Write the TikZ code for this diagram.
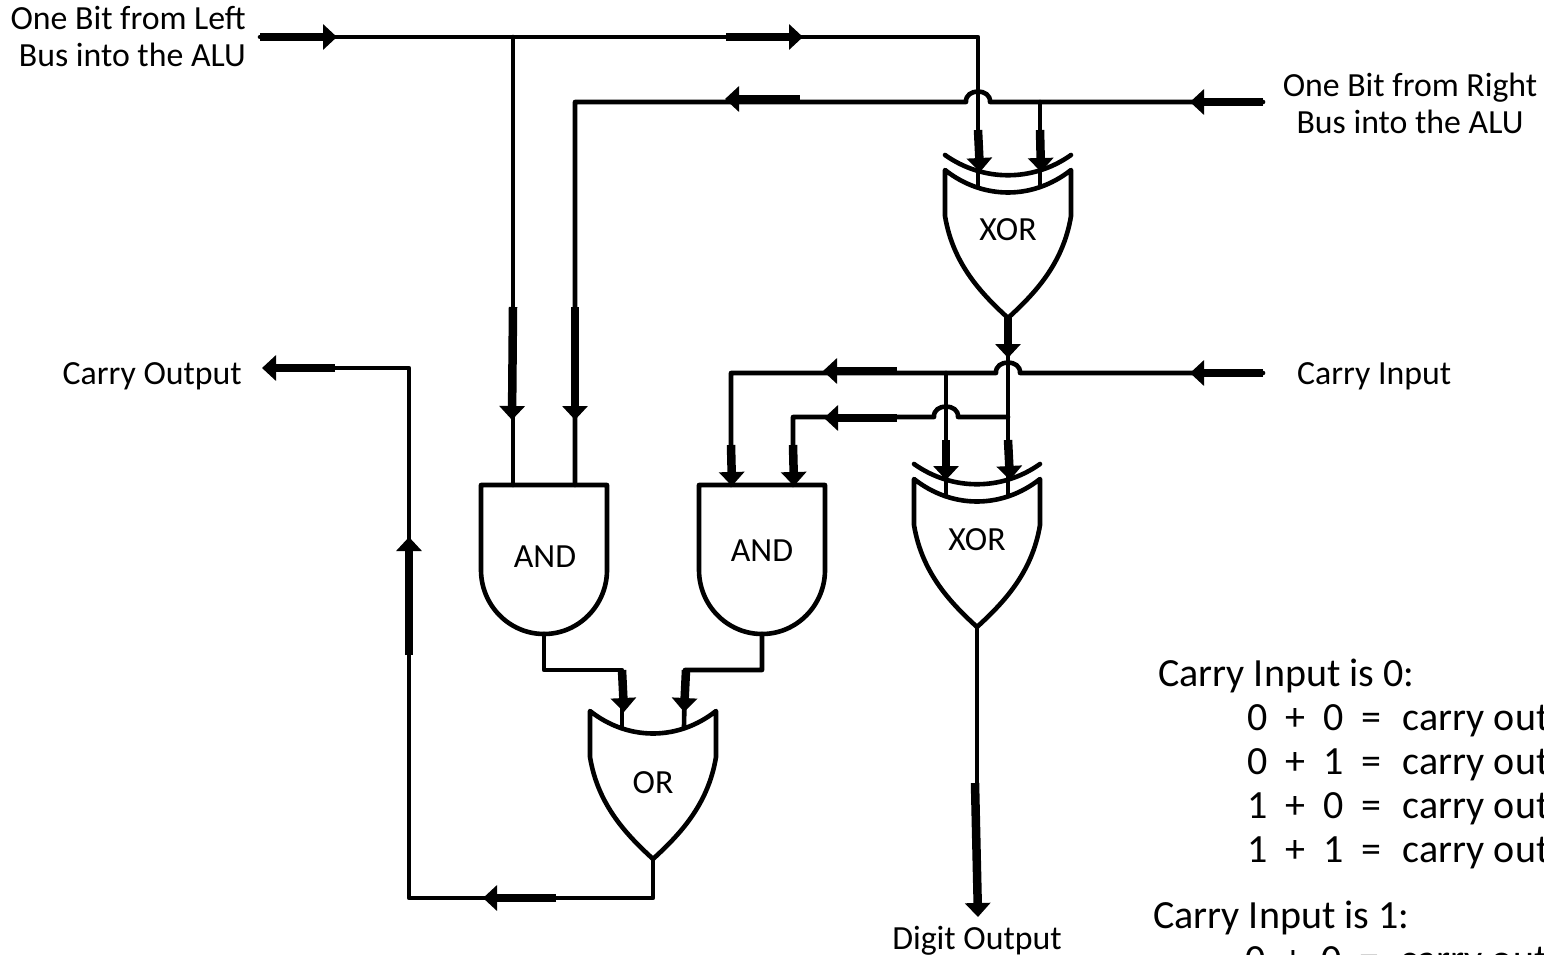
\documentclass[tikz,border=0pt]{standalone}
\usepackage{fontspec}
\setmainfont{Carlito}
\usetikzlibrary{arrows.meta}
\tikzset{
  wire/.style={line width=4.6pt,line join=round,line cap=round},
  gateline/.style={line width=4.6pt,line join=round,line cap=round,fill=white},
  thickarrow/.style={line width=8.5pt,-{Triangle[width=25pt,length=14pt]}},
  lab/.style={font=\fontsize{33.8}{38}\selectfont,inner sep=0pt},
  note/.style={font=\fontsize{40}{44}\selectfont,inner sep=0pt,anchor=base west},
  orbody/.pic={
    \draw[gateline] (-63,0) -- (-63,46) .. controls (-55,95) and (-25,125) .. (0,148)
      .. controls (25,125) and (55,95) .. (63,46) -- (63,0)
      .. controls (25,30) and (-25,30) .. (-63,0) -- cycle;
    \coordinate (out) at (0,148);
    \coordinate (a) at (-31,16);
    \coordinate (b) at (31,16);
  },
  xorbody/.pic={
    \draw[gateline] (-63,0) -- (-63,46) .. controls (-55,95) and (-25,125) .. (0,148)
      .. controls (25,125) and (55,95) .. (63,46) -- (63,0)
      .. controls (25,30) and (-25,30) .. (-63,0) -- cycle;
    \draw[wire] (-63,-15) .. controls (-25,12) and (25,12) .. (63,-15);
    \coordinate (out) at (0,148);
    \coordinate (a) at (-31,16);
    \coordinate (b) at (31,16);
  },
  andbody/.pic={
    \draw[gateline] (-63,0) -- (-63,85) .. controls (-63,120) and (-35,149) .. (0,149)
      .. controls (35,149) and (63,120) .. (63,85) -- (63,0) -- cycle;
    \coordinate (out) at (0,149);
    \coordinate (a) at (-31,0);
    \coordinate (b) at (31,0);
  },
}
\newcommand{\hopleft}[2]{.. controls (#1+13,#2-14) and (#1-13,#2-14) .. (#1-12,#2)}
\newcommand{\cgap}{~~\hspace{3pt}}
\begin{document}
\begin{tikzpicture}[x=1pt,y=-1pt]
\useasboundingbox (0,0) rectangle (1544,955);
\clip (0,0) rectangle (1544,955);
% gates
\pic (xa) at (1008,170) {xorbody};
\pic (xb) at (977,479) {xorbody};
\pic (oo) at (653,711) {orbody};
\pic (aa) at (544,485) {andbody};
\pic (ab) at (762,485) {andbody};
\node[lab] (xaL) at (1008,230) {XOR};
\node[lab] (xbL) at (977,540) {XOR};
\node[lab] (ooL) at (653,783) {OR};
\node[lab] (aaL) at (545,557) {AND};
\node[lab] (abL) at (762,551) {AND};
% text
\node[lab,anchor=east] (t1) at (246,18) {One Bit from Left};
\node[lab,anchor=east] (t2) at (246,55) {Bus into the ALU};
\node[lab,anchor=center] (t3) at (1410,88) {One Bit from Right};
\node[lab,anchor=center] (t4) at (1410,122) {Bus into the ALU};
\node[lab,anchor=east] (t5) at (242,376) {Carry Output};
\node[lab,anchor=west] (t6) at (1297,376) {Carry Input};
\node[lab] (t7) at (977,941) {Digit Output};
\node[note] (n0) at (1158,686) {Carry Input is 0:};
\node[note] (n1) at (1247,730) {0~~+~~0~~=\cgap carry out};
\node[note] (n2) at (1247,774) {0~~+~~1~~=\cgap carry out};
\node[note] (n3) at (1247,818) {1~~+~~0~~=\cgap carry out};
\node[note] (n4) at (1247,862) {1~~+~~1~~=\cgap carry out};
\node[note] (n5) at (1153,928) {Carry Input is 1:};
\node[note] (n6) at (1245,972) {0~~+~~0~~=\cgap carry out};
% junction coordinates
\coordinate (ls) at (260,37);
\coordinate (rs) at (1263,102);
\coordinate (cs) at (1263,373);
\coordinate (lc) at (978,37);
\coordinate (lj) at (513,37);
\coordinate (rc) at (575,102);
\coordinate (rj) at (1040,102);
\coordinate (cc) at (731,373);
\coordinate (cj) at (946,373);
\coordinate (dj) at (1008,417);
\coordinate (dc) at (793,417);
\coordinate (aaj) at (544,670);
\coordinate (aam) at (622,670);
\coordinate (abj) at (762,670);
\coordinate (abm) at (685,670);
\coordinate (ooc) at (653,898);
\coordinate (lc1) at (409,898);
\coordinate (lc2) at (409,368);
\coordinate (coe) at (270,368);
\coordinate (dge) at (977,910);
% wires
\draw[wire] (ls) -- (lj) -- (lc) -- (978,186);
\draw[wire] (lj) -- (aaa);
\draw[wire] (rs) -- (990,102) \hopleft{978}{102} -- (rc) -- (aab);
\draw[wire] (rj) -- (1040,186);
\draw[wire] (xaout) -- (xbb);
\draw[wire] (cs) -- (1020,373) \hopleft{1008}{373} -- (cc) -- (aba);
\draw[wire] (cj) -- (946,495);
\draw[wire] (dj) -- (958,417) \hopleft{946}{417} -- (dc) -- (abb);
\draw[wire] (aaout) -- (aaj) -- (aam) -- (ooa);
\draw[wire] (about) -- (abj) -- (abm) -- (oob);
\draw[wire] (ooout) -- (ooc) -- (lc1) -- (lc2) -- (coe);
\draw[wire] (xbout) -- (dge);
% thick arrows
\draw[thickarrow] (ls) -- (337,37);
\draw[thickarrow] (726,37) -- (803,37);
\draw[thickarrow] (rs) -- (1190,102);
\draw[thickarrow] (800,99) -- (725,99);
\draw[thickarrow] (978,130) -- (980,172);
\draw[thickarrow] (1040,130) -- (1041,172);
\draw[thickarrow] (513,307) -- (512,420);
\draw[thickarrow] (575,307) -- (575,420);
\draw[thickarrow] (1008,316) -- (1008,358);
\draw[thickarrow] (cs) -- (1190,373);
\draw[thickarrow] (897,371) -- (823,371);
\draw[thickarrow] (897,418) -- (824,418);
\draw[thickarrow] (731,445) -- (732,486);
\draw[thickarrow] (793,445) -- (794,486);
\draw[thickarrow] (946,440) -- (946,480);
\draw[thickarrow] (1008,440) -- (1010,480);
\draw[thickarrow] (622,670) -- (624,712);
\draw[thickarrow] (686,670) -- (684,712);
\draw[thickarrow] (556,898) -- (483,898);
\draw[thickarrow] (409,655) -- (409,537);
\draw[thickarrow] (335,368) -- (262,368);
\draw[thickarrow] (975,783) -- (978,917);
\end{tikzpicture}
\end{document}
